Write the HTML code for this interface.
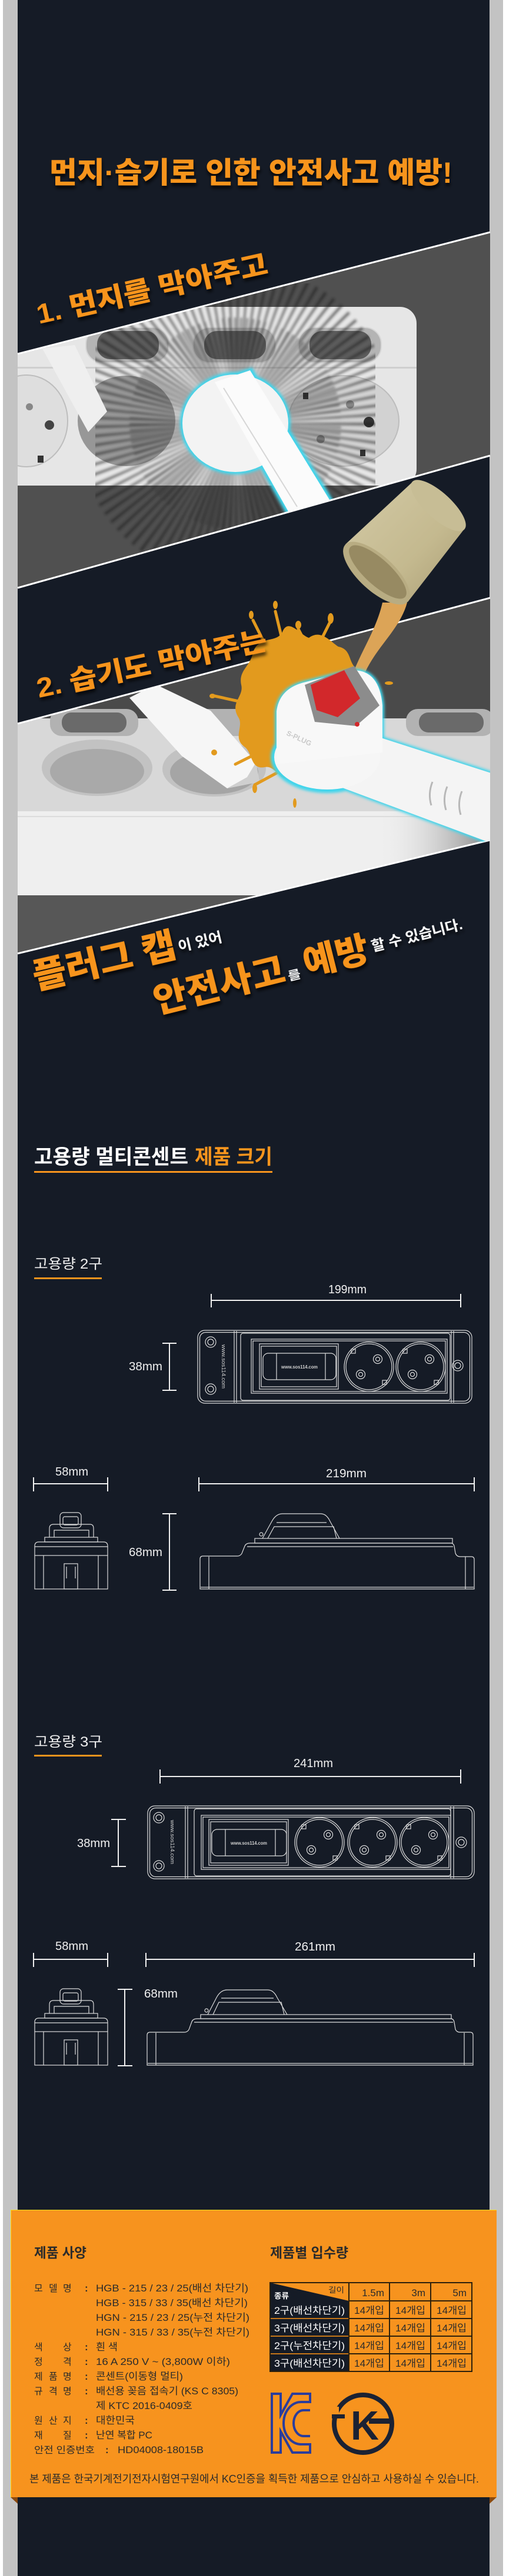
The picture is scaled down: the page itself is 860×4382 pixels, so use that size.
<!DOCTYPE html>
<html lang="ko"><head><meta charset="utf-8"><title>고용량 멀티콘센트</title>
<style>
html,body{margin:0;padding:0;background:#fff;width:860px;height:4382px;overflow:hidden}
svg{display:block}
text{font-family:"Liberation Sans","Noto Sans CJK KR",sans-serif}
</style></head><body>
<svg xmlns="http://www.w3.org/2000/svg" width="860" height="4382" viewBox="0 0 860 4382">
<defs>
<clipPath id="c1"><polygon points="30,602 833,395 833,775 30,1000"/></clipPath>
<clipPath id="c2"><polygon points="30,1231 833,1017 833,1429 30,1622"/></clipPath>
<filter id="sh" x="-10%" y="-40%" width="120%" height="190%"><feDropShadow dx="1" dy="5" stdDeviation="3" flood-color="#000" flood-opacity=".8"/></filter>
<filter id="bl" x="-20%" y="-20%" width="140%" height="140%"><feGaussianBlur stdDeviation="2"/></filter>
<filter id="gl" x="-20%" y="-20%" width="140%" height="140%"><feGaussianBlur stdDeviation="2.5"/></filter>
<linearGradient id="cupG" x1="0" y1="0" x2="1" y2="1"><stop offset="0" stop-color="#d3caa6"/><stop offset=".6" stop-color="#c4b98f"/><stop offset="1" stop-color="#a99d74"/></linearGradient>
<linearGradient id="shd" x1="0" y1="0" x2="1" y2="0"><stop offset="0" stop-color="#efefef" stop-opacity="0"/><stop offset="1" stop-color="#6a6a6a" stop-opacity=".8"/></linearGradient>
</defs>

<!-- frame -->
<rect width="860" height="4382" fill="#fff"/>
<rect x="5" y="0" width="25" height="4382" fill="#c3c3c3"/>
<rect x="832" y="0" width="23" height="4382" fill="#c3c3c3"/>
<rect x="30" y="0" width="802" height="4382" fill="#151b26"/>

<!-- title -->
<text x="84" y="311" font-size="50" font-weight="900" fill="#f7941d" textLength="685" lengthAdjust="spacingAndGlyphs" filter="url(#sh)">먼지·습기로 인한 안전사고 예방!</text>

<!-- ============ PHOTO 1 ============ -->
<polygon points="30,602 833,395 833,775 30,1000" fill="#505050"/>
<g clip-path="url(#c1)">
  <rect x="-20" y="522" width="728" height="304" rx="28" fill="#e6e6e6"/>
  <rect x="146" y="557" width="141" height="60" rx="28" fill="#b4b4b4" stroke="#d6d6d6" stroke-width="2"/>
  <rect x="165" y="563" width="105" height="48" rx="22" fill="#5c5c5c"/>
  <rect x="328" y="557" width="141" height="60" rx="28" fill="#b4b4b4" stroke="#d6d6d6" stroke-width="2"/>
  <rect x="347" y="563" width="105" height="48" rx="22" fill="#5c5c5c"/>
  <rect x="507" y="557" width="141" height="60" rx="28" fill="#b4b4b4" stroke="#d6d6d6" stroke-width="2"/>
  <rect x="526" y="563" width="105" height="48" rx="22" fill="#5c5c5c"/>
  <rect x="20" y="624" width="688" height="3" fill="#cfcfcf"/>
  <ellipse cx="45" cy="716" rx="70" ry="78" fill="#dedede" stroke="#bdbdbd" stroke-width="2"/>
  <circle cx="84" cy="723" r="8" fill="#444"/>
  <circle cx="50" cy="692" r="6" fill="#888"/>
  <rect x="64" y="775" width="10" height="12" fill="#333"/>
  <ellipse cx="215" cy="716" rx="83" ry="77" fill="#979797"/>
  <ellipse cx="584" cy="716" rx="94" ry="77" fill="#d2d2d2" stroke="#bdbdbd" stroke-width="2"/>
  <circle cx="627" cy="718" r="9" fill="#333"/>
  <circle cx="545" cy="747" r="7" fill="#888"/>
  <circle cx="595" cy="688" r="7" fill="#888"/>
  <rect x="515" y="668" width="9" height="11" fill="#333"/>
  <rect x="612" y="765" width="9" height="11" fill="#333"/>
  <g opacity=".58" filter="url(#bl)">
    <circle cx="400" cy="720" r="170" fill="none" stroke="#1e1e1e" stroke-width="200" stroke-dasharray="3 8"/>
    <circle cx="400" cy="720" r="120" fill="none" stroke="#2a2a2a" stroke-width="120" stroke-dasharray="2 5" stroke-dashoffset="3"/>
  </g>
  <polygon points="72,593 127,587 182,700 150,735" fill="#efefef"/>
  <g filter="url(#gl)">
    <ellipse cx="400" cy="720" rx="94" ry="87" fill="#3fd5ec"/>
    <polygon points="363,648 427,628 563,850 488,872" fill="#3fd5ec" stroke="#3fd5ec" stroke-width="5"/>
  </g>
  <ellipse cx="400" cy="720" rx="90" ry="83" fill="#f3f3f3"/>
  <polygon points="365,650 425,630 560,850 490,870" fill="#fbfbfb"/>
  <line x1="380" y1="660" x2="505" y2="862" stroke="#d6d6d6" stroke-width="2"/>
</g>
<line x1="30" y1="602" x2="833" y2="395" stroke="#fff" stroke-width="3"/>
<line x1="30" y1="1000" x2="833" y2="775" stroke="#fff" stroke-width="3"/>

<text transform="translate(66,551) rotate(-12.5)" font-size="46" font-weight="900" fill="#f7941d" textLength="401" lengthAdjust="spacingAndGlyphs" filter="url(#sh)">1. 먼지를 막아주고</text>

<!-- ============ PHOTO 2 ============ -->
<polygon points="30,1231 833,1017 833,1429 30,1622" fill="#4a4a4a"/>
<g clip-path="url(#c2)">
  <rect x="30" y="1222" width="803" height="160" fill="#d8d8d8"/>
  <rect x="30" y="1380" width="803" height="143" fill="#efefef"/>
  <rect x="30" y="1388" width="803" height="2" fill="#dcdcdc"/>
  <rect x="30" y="1523" width="803" height="130" fill="#575757"/>
  <rect x="640" y="1380" width="193" height="143" fill="url(#shd)"/>
  <rect x="85" y="1206" width="150" height="46" rx="20" fill="#b2b2b2"/>
  <rect x="105" y="1212" width="110" height="34" rx="16" fill="#6a6a6a"/>
  <rect x="330" y="1206" width="120" height="46" rx="20" fill="#b2b2b2"/>
  <rect x="690" y="1206" width="150" height="46" rx="20" fill="#b2b2b2"/>
  <rect x="712" y="1212" width="110" height="34" rx="16" fill="#6a6a6a"/>
  <ellipse cx="165" cy="1306" rx="94" ry="48" fill="#c2c2c2"/>
  <ellipse cx="165" cy="1312" rx="80" ry="38" fill="#a9a9a9"/>
  <ellipse cx="364" cy="1308" rx="88" ry="47" fill="#c2c2c2"/>
  <ellipse cx="364" cy="1314" rx="75" ry="37" fill="#a5a5a5"/>
  <polygon points="220,1187 264,1164 358,1209 435,1297 441,1330 386,1341 309,1286" fill="#f6f6f6"/>
  <polygon points="386,1341 441,1330 435,1297 420,1322" fill="#cfcfcf"/>
</g>
<line x1="30" y1="1231" x2="833" y2="1017" stroke="#fff" stroke-width="3"/>
<line x1="30" y1="1622" x2="833" y2="1429" stroke="#fff" stroke-width="3"/>

<!-- cup + stream -->
<path d="M650,1025 C640,1070 615,1105 598,1150 L620,1145 C640,1100 680,1070 692,1025 Z" fill="#dca457"/>
<polygon points="587,926 701,820 789,900 693,1024" fill="url(#cupG)"/>
<ellipse cx="745" cy="860" rx="60" ry="22" transform="rotate(42.4 745 860)" fill="#c7bd95"/>
<ellipse cx="640" cy="975" rx="72" ry="30" transform="rotate(42.4 640 975)" fill="#b8ac82"/>
<ellipse cx="642" cy="973" rx="63" ry="22" transform="rotate(42.4 642 973)" fill="#978a62"/>

<!-- splash -->
<g fill="#e29a1e">
  <path d="M430,1110 C440,1080 470,1095 480,1075 C490,1050 510,1080 525,1085 C545,1070 560,1090 575,1100 C600,1105 590,1130 610,1140 C630,1160 610,1180 620,1200 C630,1230 600,1235 600,1260 C595,1290 570,1280 555,1300 C540,1330 520,1300 500,1320 C480,1340 470,1300 450,1305 C425,1310 430,1280 415,1270 C395,1255 415,1235 405,1220 C390,1195 415,1185 410,1165 C405,1140 425,1135 430,1110 Z"/>
  <g stroke="#e29a1e" stroke-width="5" stroke-linecap="round">
    <line x1="480" y1="1090" x2="468" y2="1040"/>
    <line x1="455" y1="1105" x2="430" y2="1055"/>
    <line x1="520" y1="1095" x2="507" y2="1070"/>
    <line x1="545" y1="1090" x2="560" y2="1060"/>
    <line x1="415" y1="1195" x2="365" y2="1184"/>
    <line x1="430" y1="1285" x2="400" y2="1300"/>
    <line x1="470" y1="1315" x2="433" y2="1335"/>
  </g>
  <ellipse cx="468" cy="1029" rx="4" ry="7"/>
  <ellipse cx="427" cy="1046" rx="4" ry="7"/>
  <ellipse cx="507" cy="1063" rx="5" ry="7"/>
  <ellipse cx="562" cy="1052" rx="5" ry="9"/>
  <ellipse cx="361" cy="1184" rx="5" ry="4"/>
  <ellipse cx="364" cy="1280" rx="5" ry="5"/>
  <ellipse cx="661" cy="1162" rx="7" ry="3"/>
  <ellipse cx="433" cy="1341" rx="4" ry="8"/>
  <ellipse cx="501" cy="1366" rx="3" ry="8"/>
</g>

<!-- S-plug -->
<g clip-path="url(#c2)">
  <g filter="url(#gl)" fill="#3fd5ec" stroke="#3fd5ec" stroke-width="6">
    <polygon points="585,1235 850,1320 850,1440 555,1330"/>
    <ellipse cx="556" cy="1288" rx="93" ry="58"/>
    <path d="M470,1300 L470,1210 Q475,1170 520,1160 L600,1140 Q645,1140 650,1200 L650,1280 Z"/>
  </g>
  <polygon points="585,1235 850,1320 850,1440 555,1330" fill="#f4f4f4"/>
  <g fill="none" stroke="#b8b8b8" stroke-width="3">
    <path d="M735,1330 q-8,20 -2,40"/><path d="M760,1338 q-8,20 -2,40"/><path d="M785,1346 q-8,20 -2,40"/>
  </g>
  <ellipse cx="556" cy="1288" rx="90" ry="55" fill="#f6f6f6"/>
  <path d="M470,1300 L470,1210 Q475,1170 520,1160 L600,1140 Q645,1140 650,1200 L650,1280 Z" fill="#f8f8f8"/>
  <polygon points="518,1165 602,1133 645,1200 605,1235 535,1228" fill="#8c8c8c"/>
  <polygon points="528,1165 585,1140 612,1188 574,1220 538,1208" fill="#d2282b"/>
  <circle cx="607" cy="1232" r="4" fill="#d2282b"/>
  <text transform="translate(486,1250) rotate(25)" font-size="12" font-weight="bold" fill="#c9c9c9">S-PLUG</text>
</g>

<text transform="translate(66,1187) rotate(-12)" font-size="46" font-weight="900" fill="#f7941d" textLength="399" lengthAdjust="spacingAndGlyphs" filter="url(#sh)">2. 습기도 막아주는</text>

<!-- bottom promo text -->
<g transform="translate(61,1683) rotate(-13)" filter="url(#sh)">
  <text x="0" y="0" font-size="60" font-weight="900" fill="#f7941d" textLength="248" lengthAdjust="spacingAndGlyphs">플러그 캡</text>
  <text x="252" y="-8" font-size="24" font-weight="bold" fill="#fff" textLength="76" lengthAdjust="spacingAndGlyphs">이 있어</text>
</g>
<g transform="translate(267,1724) rotate(-14)" filter="url(#sh)">
  <text x="0" y="0" font-size="60" font-weight="900" fill="#f7941d" textLength="228" lengthAdjust="spacingAndGlyphs">안전사고</text>
  <text x="231" y="0" font-size="20" font-weight="bold" fill="#fff" textLength="22" lengthAdjust="spacingAndGlyphs">를</text>
  <text x="262" y="0" font-size="60" font-weight="900" fill="#f7941d" textLength="113" lengthAdjust="spacingAndGlyphs">예방</text>
  <text x="381" y="-14" font-size="24" font-weight="bold" fill="#fff" textLength="159" lengthAdjust="spacingAndGlyphs">할 수 있습니다.</text>
</g>

<!-- ============ SIZE SECTION ============ -->
<text x="58" y="1980" font-size="35" font-weight="bold" fill="#fff" textLength="262" lengthAdjust="spacingAndGlyphs">고용량 멀티콘센트</text>
<text x="331" y="1980" font-size="35" font-weight="bold" fill="#f7941d" textLength="132" lengthAdjust="spacingAndGlyphs">제품 크기</text>
<rect x="58" y="1992" width="405" height="3" fill="#f7941d"/>

<text x="58" y="2158" font-size="24" fill="#eee" textLength="116" lengthAdjust="spacingAndGlyphs">고용량 2구</text>
<rect x="58" y="2173" width="115" height="3" fill="#f7941d"/>

<g fill="#f0f0f0" font-size="20">
  <text x="558" y="2200" textLength="65" lengthAdjust="spacingAndGlyphs">199mm</text>
  <text x="219" y="2331" textLength="57" lengthAdjust="spacingAndGlyphs">38mm</text>
  <text x="94" y="2510" textLength="56" lengthAdjust="spacingAndGlyphs">58mm</text>
  <text x="554" y="2513" textLength="69" lengthAdjust="spacingAndGlyphs">219mm</text>
  <text x="219" y="2647" textLength="57" lengthAdjust="spacingAndGlyphs">68mm</text>
  <text x="499" y="3006" textLength="67" lengthAdjust="spacingAndGlyphs">241mm</text>
  <text x="131" y="3142" textLength="56" lengthAdjust="spacingAndGlyphs">38mm</text>
  <text x="94" y="3317" textLength="56" lengthAdjust="spacingAndGlyphs">58mm</text>
  <text x="501" y="3318" textLength="69" lengthAdjust="spacingAndGlyphs">261mm</text>
  <text x="245" y="3398" textLength="57" lengthAdjust="spacingAndGlyphs">68mm</text>
</g>

<g stroke="#f0f0f0" stroke-width="2" fill="none">
  <path d="M359,2212 H783 M359,2201 V2224 M783,2201 V2224"/>
  <path d="M288,2285 V2365 M276,2285 H300 M276,2365 H300"/>
  <path d="M57,2524 H183 M57,2513 V2537 M183,2513 V2537"/>
  <path d="M338,2524 H806 M338,2513 V2537 M806,2513 V2537"/>
  <path d="M288,2575 V2705 M276,2575 H300 M276,2705 H300"/>
  <path d="M272,3022 H783 M272,3010 V3034 M783,3010 V3034"/>
  <path d="M201,3095 V3175 M189,3095 H214 M189,3175 H214"/>
  <path d="M57,3333 H183 M57,3322 V3346 M183,3322 V3346"/>
  <path d="M248,3333 H806 M248,3322 V3346 M806,3322 V3346"/>
  <path d="M212,3384 V3514 M200,3384 H225 M200,3514 H225"/>
</g>

<!-- top view 2구 -->
<g fill="none" stroke="#dcdcdc" stroke-width="1.2">
  <rect x="336" y="2263" width="466" height="124" rx="12"/>
  <rect x="339.5" y="2266.5" width="459" height="117" rx="10"/>
  <path d="M398,2264 V2386 M402,2264 V2386 M767,2264 V2386 M771,2264 V2386"/>
  <rect x="409" y="2268" width="356" height="114" rx="4"/>
  <rect x="427" y="2278" width="333" height="92"/>
  <rect x="430" y="2281" width="327" height="86"/>
  <rect x="441" y="2286" width="134" height="77"/>
  <rect x="444" y="2290" width="128" height="69"/>
  <rect x="447" y="2302" width="124" height="45" rx="9"/>
  <path d="M470,2302 V2347 M553,2302 V2347"/>
  <circle cx="358" cy="2283" r="9"/><circle cx="358" cy="2283" r="5"/>
  <circle cx="358" cy="2363" r="9"/><circle cx="358" cy="2363" r="5"/>
  <circle cx="778" cy="2323" r="9"/><circle cx="778" cy="2323" r="5"/>
  <g transform="translate(627,2325)"><circle r="42"/><circle r="39"/><circle cx="15" cy="-13" r="7.5"/><circle cx="15" cy="-13" r="3.5"/><circle cx="-14" cy="13" r="7.5"/><circle cx="-14" cy="13" r="3.5"/><rect x="-30" y="-30" width="7" height="7"/><rect x="23" y="23" width="7" height="7"/></g>
  <g transform="translate(715,2325)"><circle r="42"/><circle r="39"/><circle cx="15" cy="-13" r="7.5"/><circle cx="15" cy="-13" r="3.5"/><circle cx="-14" cy="13" r="7.5"/><circle cx="-14" cy="13" r="3.5"/><rect x="-30" y="-30" width="7" height="7"/><rect x="23" y="23" width="7" height="7"/></g>
</g>
<text transform="translate(377,2287) rotate(90)" font-size="9" fill="#d0d0d0" textLength="75" lengthAdjust="spacingAndGlyphs">www.sos114.com</text>
<text x="509" y="2328" font-size="8" font-weight="bold" fill="#cfcfcf" text-anchor="middle" textLength="62" lengthAdjust="spacingAndGlyphs">www.sos114.com</text>

<!-- front view 2구 -->
<g fill="none" stroke="#dcdcdc" stroke-width="1.2">
  <rect x="102" y="2573" width="36" height="26" rx="6"/>
  <rect x="107" y="2580" width="26" height="14" rx="3"/>
  <path d="M84,2615 V2600 Q84,2593 91,2593 H153 Q159,2593 159,2600 V2615"/>
  <path d="M92,2615 V2603 H151 V2615"/>
  <rect x="76" y="2615" width="90" height="8"/>
  <path d="M59,2646 V2630 Q59,2623 66,2623 H176 Q183,2623 183,2630 V2646"/>
  <path d="M59,2631 H183"/>
  <rect x="59" y="2646" width="124" height="57"/>
  <path d="M74,2646 V2703 M167,2646 V2703"/>
  <rect x="109" y="2660" width="23" height="43"/>
  <path d="M113,2665 V2685 M128,2665 V2685"/>
</g>

<!-- side view 2구 -->
<g fill="none" stroke="#dcdcdc" stroke-width="1.2">
  <path d="M340,2703 V2652 Q340,2647 345,2647 H403 Q410,2647 412,2640 L416,2630 Q418,2625 425,2625 H766 Q771,2625 772,2630 L774,2642 Q776,2648 782,2648 H801 Q806,2648 806,2653 V2703 Z"/>
  <path d="M355,2648 V2703 M791,2648 V2703 M341,2700 H805 M420,2631 H770"/>
  <rect x="433" y="2617" width="336" height="8"/>
  <path d="M446,2617 L462,2588 Q469,2575 480,2575 H545 Q555,2575 561,2588 L577,2617"/>
  <path d="M455,2617 L466,2597 H567 L572,2617 M470,2590 H555"/>
  <circle cx="444" cy="2610" r="3"/>
</g>

<!-- 고용량 3구 -->
<text x="58" y="2971" font-size="24" fill="#eee" textLength="116" lengthAdjust="spacingAndGlyphs">고용량 3구</text>
<rect x="58" y="2985" width="115" height="3" fill="#f7941d"/>

<!-- top view 3구 -->
<g fill="none" stroke="#dcdcdc" stroke-width="1.2">
  <rect x="251" y="3072" width="555" height="124" rx="12"/>
  <rect x="254.5" y="3075.5" width="548" height="117" rx="10"/>
  <path d="M315,3073 V3195 M319,3073 V3195 M766,3073 V3195 M771,3073 V3195"/>
  <rect x="330" y="3077" width="436" height="114" rx="4"/>
  <rect x="342" y="3088" width="424" height="92"/>
  <rect x="345" y="3091" width="418" height="86"/>
  <rect x="355" y="3095" width="135" height="78"/>
  <rect x="358" y="3099" width="129" height="70"/>
  <rect x="360" y="3112" width="127" height="45" rx="9"/>
  <path d="M383,3112 V3157 M468,3112 V3157"/>
  <circle cx="270" cy="3092" r="9"/><circle cx="270" cy="3092" r="5"/>
  <circle cx="270" cy="3174" r="9"/><circle cx="270" cy="3174" r="5"/>
  <circle cx="784" cy="3134" r="9"/><circle cx="784" cy="3134" r="5"/>
  <g transform="translate(543,3134)"><circle r="42"/><circle r="39"/><circle cx="15" cy="-13" r="7.5"/><circle cx="15" cy="-13" r="3.5"/><circle cx="-14" cy="13" r="7.5"/><circle cx="-14" cy="13" r="3.5"/><rect x="-30" y="-30" width="7" height="7"/><rect x="23" y="23" width="7" height="7"/></g>
  <g transform="translate(633,3134)"><circle r="42"/><circle r="39"/><circle cx="15" cy="-13" r="7.5"/><circle cx="15" cy="-13" r="3.5"/><circle cx="-14" cy="13" r="7.5"/><circle cx="-14" cy="13" r="3.5"/><rect x="-30" y="-30" width="7" height="7"/><rect x="23" y="23" width="7" height="7"/></g>
  <g transform="translate(721,3134)"><circle r="42"/><circle r="39"/><circle cx="15" cy="-13" r="7.5"/><circle cx="15" cy="-13" r="3.5"/><circle cx="-14" cy="13" r="7.5"/><circle cx="-14" cy="13" r="3.5"/><rect x="-30" y="-30" width="7" height="7"/><rect x="23" y="23" width="7" height="7"/></g>
</g>
<text transform="translate(290,3096) rotate(90)" font-size="9" fill="#d0d0d0" textLength="75" lengthAdjust="spacingAndGlyphs">www.sos114.com</text>
<text x="423" y="3138" font-size="8" font-weight="bold" fill="#cfcfcf" text-anchor="middle" textLength="62" lengthAdjust="spacingAndGlyphs">www.sos114.com</text>

<!-- front view 3구 -->
<g fill="none" stroke="#dcdcdc" stroke-width="1.2" transform="translate(0,810)">
  <rect x="102" y="2573" width="36" height="26" rx="6"/>
  <rect x="107" y="2580" width="26" height="14" rx="3"/>
  <path d="M84,2615 V2600 Q84,2593 91,2593 H153 Q159,2593 159,2600 V2615"/>
  <path d="M92,2615 V2603 H151 V2615"/>
  <rect x="76" y="2615" width="90" height="8"/>
  <path d="M59,2646 V2630 Q59,2623 66,2623 H176 Q183,2623 183,2630 V2646"/>
  <path d="M59,2631 H183"/>
  <rect x="59" y="2646" width="124" height="57"/>
  <path d="M74,2646 V2703 M167,2646 V2703"/>
  <rect x="109" y="2660" width="23" height="43"/>
  <path d="M113,2665 V2685 M128,2665 V2685"/>
</g>

<!-- side view 3구 -->
<g fill="none" stroke="#dcdcdc" stroke-width="1.2">
  <path d="M250,3513 V3462 Q250,3457 255,3457 H313 Q320,3457 322,3450 L326,3439 Q328,3434 335,3434 H766 Q771,3434 772,3440 L774,3452 Q776,3457 782,3457 H799 Q804,3457 804,3462 V3513 Z"/>
  <path d="M265,3458 V3513 M789,3458 V3513 M251,3510 H803 M330,3440 H770"/>
  <rect x="341" y="3427" width="426" height="7"/>
  <path d="M353,3427 L368,3398 Q375,3385 386,3385 H455 Q465,3385 471,3398 L488,3427"/>
  <path d="M362,3427 L372,3406 H478 L483,3427 M376,3399 H465"/>
  <circle cx="351" cy="3420" r="3"/>
</g>

<!-- ============ SPEC PANEL ============ -->
<rect x="18" y="3759" width="826" height="489" fill="#f7931e"/>
<path d="M18.5,4248 V3759.5 H844" fill="none" stroke="#ffe01a" stroke-width="1"/>
<polygon points="18,4248 30,4248 30,4259" fill="#8a4a10"/>
<polygon points="844,4248 832,4248 832,4259" fill="#8a4a10"/>

<g fill="#2b2b2b">
  <text x="58" y="3840" font-size="23" font-weight="bold" textLength="89" lengthAdjust="spacingAndGlyphs">제품 사양</text>
  <text x="459" y="3840" font-size="23" font-weight="bold" textLength="133" lengthAdjust="spacingAndGlyphs">제품별 입수량</text>

  <g font-size="16">
    <text x="58 83 107" y="3898">모델명</text>
    <text x="58 107" y="3998">색상</text>
    <text x="58 107" y="4023">정격</text>
    <text x="58 83 107" y="4048">제품명</text>
    <text x="58 83 107" y="4073">규격명</text>
    <text x="58 83 107" y="4123">원산지</text>
    <text x="58 107" y="4148">재질</text>
    <text x="58" y="4173" textLength="103" lengthAdjust="spacingAndGlyphs">안전 인증번호</text>
  </g>
  <g font-size="17" font-weight="bold">
    <text x="144" y="3898">:</text>
    <text x="144" y="3998">:</text>
    <text x="144" y="4023">:</text>
    <text x="144" y="4048">:</text>
    <text x="144" y="4073">:</text>
    <text x="144" y="4123">:</text>
    <text x="144" y="4148">:</text>
    <text x="179" y="4173">:</text>
  </g>
  <g font-size="17">
    <text x="163" y="3898" textLength="259" lengthAdjust="spacingAndGlyphs">HGB - 215 / 23 / 25(배선 차단기)</text>
    <text x="163" y="3923" textLength="258" lengthAdjust="spacingAndGlyphs">HGB - 315 / 33 / 35(배선 차단기)</text>
    <text x="163" y="3948" textLength="261" lengthAdjust="spacingAndGlyphs">HGN - 215 / 23 / 25(누전 차단기)</text>
    <text x="163" y="3973" textLength="261" lengthAdjust="spacingAndGlyphs">HGN - 315 / 33 / 35(누전 차단기)</text>
    <text x="163" y="3998" textLength="37" lengthAdjust="spacingAndGlyphs">흰 색</text>
    <text x="163" y="4023" textLength="228" lengthAdjust="spacingAndGlyphs">16 A 250 V ~ (3,800W 이하)</text>
    <text x="163" y="4048" textLength="148" lengthAdjust="spacingAndGlyphs">콘센트(이동형 멀티)</text>
    <text x="163" y="4073" textLength="242" lengthAdjust="spacingAndGlyphs">배선용 꽂음 접속기 (KS C 8305)</text>
    <text x="163" y="4098" textLength="164" lengthAdjust="spacingAndGlyphs">제 KTC 2016-0409호</text>
    <text x="163" y="4123" textLength="66" lengthAdjust="spacingAndGlyphs">대한민국</text>
    <text x="163" y="4148" textLength="96" lengthAdjust="spacingAndGlyphs">난연 복합 PC</text>
    <text x="200" y="4173" textLength="146" lengthAdjust="spacingAndGlyphs">HD04008-18015B</text>
  </g>
</g>

<!-- table -->
<rect x="459" y="3914" width="134" height="120" fill="#151b26"/>
<polygon points="459,3883 593,3914 459,3914" fill="#151b26"/>
<g stroke="#c57618" stroke-width="2">
  <path d="M459,3944 H593 M459,3974 H593 M459,4004 H593"/>
</g>
<g stroke="#2d200c" stroke-width="2" fill="none">
  <path d="M593,3883 V4034 M662,3883 V4034 M732,3883 V4034"/>
  <path d="M593,3914 H802 M593,3944 H802 M593,3974 H802 M593,4004 H802"/>
  <rect x="459" y="3883" width="343" height="151"/>
</g>
<text x="558" y="3900" font-size="13" fill="#2b2b2b" textLength="27" lengthAdjust="spacingAndGlyphs">길이</text>
<text x="466" y="3910" font-size="13" font-weight="bold" fill="#fff" textLength="25" lengthAdjust="spacingAndGlyphs">종류</text>
<g font-size="17" fill="#2b2b2b" text-anchor="end">
  <text x="653" y="3906">1.5m</text>
  <text x="723" y="3906">3m</text>
  <text x="793" y="3906">5m</text>
</g>
<g font-size="17" fill="#fff">
  <text x="466" y="3936" textLength="120" lengthAdjust="spacingAndGlyphs">2구(배선차단기)</text>
  <text x="466" y="3966" textLength="120" lengthAdjust="spacingAndGlyphs">3구(배선차단기)</text>
  <text x="466" y="3996" textLength="120" lengthAdjust="spacingAndGlyphs">2구(누전차단기)</text>
  <text x="466" y="4026" textLength="120" lengthAdjust="spacingAndGlyphs">3구(배선차단기)</text>
</g>
<g font-size="17" fill="#2b2b2b">
  <text x="602" y="3936" textLength="51" lengthAdjust="spacingAndGlyphs">14개입</text>
  <text x="672" y="3936" textLength="51" lengthAdjust="spacingAndGlyphs">14개입</text>
  <text x="742" y="3936" textLength="51" lengthAdjust="spacingAndGlyphs">14개입</text>
  <text x="602" y="3966" textLength="51" lengthAdjust="spacingAndGlyphs">14개입</text>
  <text x="672" y="3966" textLength="51" lengthAdjust="spacingAndGlyphs">14개입</text>
  <text x="742" y="3966" textLength="51" lengthAdjust="spacingAndGlyphs">14개입</text>
  <text x="602" y="3996" textLength="51" lengthAdjust="spacingAndGlyphs">14개입</text>
  <text x="672" y="3996" textLength="51" lengthAdjust="spacingAndGlyphs">14개입</text>
  <text x="742" y="3996" textLength="51" lengthAdjust="spacingAndGlyphs">14개입</text>
  <text x="602" y="4026" textLength="51" lengthAdjust="spacingAndGlyphs">14개입</text>
  <text x="672" y="4026" textLength="51" lengthAdjust="spacingAndGlyphs">14개입</text>
  <text x="742" y="4026" textLength="51" lengthAdjust="spacingAndGlyphs">14개입</text>
</g>

<!-- KC logo -->
<g fill="none" stroke="#2b3d9c" stroke-width="4" stroke-linejoin="miter">
  <path d="M462,4072 H477 V4108 L497,4072 H527 V4086 H512 A30,36 0 0 0 512,4158 H527 V4172 H497 L477,4136 V4172 H462 Z"/>
  <path d="M527,4100 H516 A17,22 0 0 0 516,4144 H527"/>
</g>
<!-- KS logo -->
<circle cx="617" cy="4123" r="49" fill="none" stroke="#1b2233" stroke-width="8"/>
<rect x="560" y="4094" width="16" height="13" fill="#f7931e"/>
<rect x="564" y="4107" width="22" height="7" fill="#1b2233"/>
<rect x="627" y="4114" width="42" height="9" fill="#1b2233"/>
<text x="596" y="4150" font-size="70" font-weight="bold" fill="#1b2233" textLength="48" lengthAdjust="spacingAndGlyphs">K</text>

<text x="50" y="4223" font-size="18" fill="#2b2b2b" textLength="764" lengthAdjust="spacingAndGlyphs">본 제품은 한국기계전기전자시험연구원에서 KC인증을 획득한 제품으로 안심하고 사용하실 수 있습니다.</text>

</svg>
</body></html>
